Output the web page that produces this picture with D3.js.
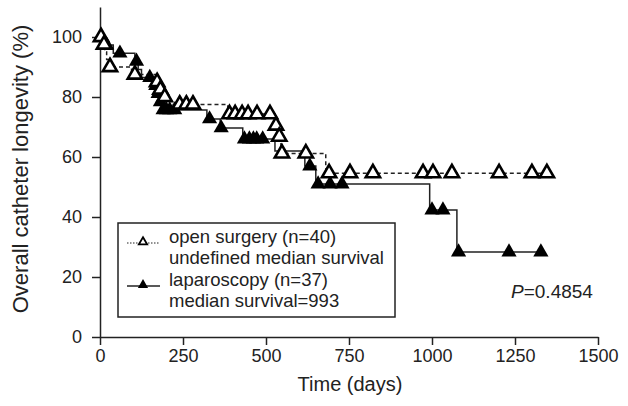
<!DOCTYPE html>
<html>
<head>
<meta charset="utf-8">
<script src="https://cdn.jsdelivr.net/npm/d3@7"></script>
<style>
  body { margin: 0; background: #fff; }
  svg { font-family: "Liberation Sans", Arial, sans-serif; }
</style>
</head>
<body>
<svg id="chart" width="628" height="406"></svg>
<script>
// step points [time, survival after drop]
const openSteps = [[0,100],[8,97.5],[14,95],[20,92.5],[26,90],[95,87.5],[168,85],[178,82.5],[188,80],[200,77.5],
  [385,74.3],[527,70.5],[535,66.8],[545,61.2],[680,54.6]];
const openCensored = [[3,100],[12,97.5],[30,90],[105,87.5],[172,85],[182,82.5],[195,80],[240,77.5],[260,77.5],[280,77.5],
  [390,74.3],[407,74.3],[428,74.3],[446,74.3],[473,74.3],[512,74.3],[530,70.5],[540,66.8],[548,61.2],[620,61.2],
  [690,54.6],[753,54.6],[822,54.6],[973,54.6],[1003,54.6],[1060,54.6],[1202,54.6],[1301,54.6],[1346,54.6]];

const lapSteps = [[0,100],[12,97.3],[40,94.6],[105,91.9],[115,89.2],[125,86.5],[165,83.8],[172,81.1],[178,78.4],[185,75.7],
  [322,72.7],[362,69.7],[430,66.0],[527,62.0],[617,57.0],[650,51.0],[993,42.3],[1075,28.3]];
const lapCensored = [[20,97.3],[60,94.6],[110,91.9],[150,86.5],[168,83.8],[175,81.1],[182,78.4],[190,75.7],[200,75.7],
  [210,75.7],[225,75.7],[330,72.7],[365,69.7],[435,66.0],[450,66.0],[462,66.0],[472,66.0],[490,66.0],[632,57.0],
  [657,51.0],[693,51.0],[729,51.0],[1000,42.3],[1033,42.3],[1080,28.3],[1232,28.3],[1328,28.3]];

const xTicks = [0, 250, 500, 750, 1000, 1250, 1500];
const yTicks = [0, 20, 40, 60, 80, 100];
const legendLines = [
  ['open surgery (n=40)', 'undefined median survival'],
  ['laparoscopy (n=37)', 'median survival=993']
];
const pLabel = '=0.4854';

const ink = '#222';
const svg = d3.select('#chart');

const x = d3.scaleLinear().domain([0, 1500]).range([100, 598]);
const y = d3.scaleLinear().domain([0, 110]).range([337, 7]);

// axes
const xAxis = svg.append('g')
  .attr('transform', `translate(0,${y(0)})`)
  .call(d3.axisBottom(x).tickValues(xTicks).tickFormat(d3.format('d'))
    .tickSize(8).tickSizeOuter(0).tickPadding(4));
const yAxis = svg.append('g')
  .attr('transform', `translate(${x(0)},0)`)
  .call(d3.axisLeft(y).tickValues(yTicks).tickSize(8).tickSizeOuter(0).tickPadding(10));

[xAxis, yAxis].forEach(a => {
  a.selectAll('path, line').attr('stroke', ink).attr('stroke-width', 1.5);
  a.selectAll('text').attr('fill', ink).style('font-size', '18px');
});

svg.append('text')
  .attr('x', 350).attr('y', 391)
  .attr('text-anchor', 'middle')
  .attr('fill', ink)
  .style('font-size', '20px')
  .text('Time (days)');

svg.append('text')
  .attr('transform', `translate(28,${y(50) - 18}) rotate(-90)`)
  .attr('text-anchor', 'middle')
  .attr('fill', ink)
  .style('font-size', '22px')
  .text('Overall catheter longevity (%)');

// curves
function stepPath(steps, censored) {
  const lastT = d3.max(censored, d => d[0]);
  const pts = steps.concat([[Math.max(lastT, steps[steps.length - 1][0]), steps[steps.length - 1][1]]]);
  return d3.line().x(d => x(d[0])).y(d => y(d[1])).curve(d3.curveStepAfter)(pts);
}

svg.append('path')
  .attr('d', stepPath(openSteps, openCensored))
  .attr('fill', 'none')
  .attr('stroke', ink)
  .attr('stroke-width', 1.5)
  .attr('stroke-dasharray', '4,3');

svg.append('path')
  .attr('d', stepPath(lapSteps, lapCensored))
  .attr('fill', 'none')
  .attr('stroke', ink)
  .attr('stroke-width', 1.5);

const tri = d3.symbol().type(d3.symbolTriangle);

svg.append('g').selectAll('path')
  .data(lapCensored)
  .join('path')
  .attr('transform', d => `translate(${x(d[0])},${y(d[1])})`)
  .attr('d', tri.size(100)())
  .attr('fill', '#000');

svg.append('g').selectAll('path')
  .data(openCensored)
  .join('path')
  .attr('transform', d => `translate(${x(d[0])},${y(d[1])})`)
  .attr('d', tri.size(88)())
  .attr('fill', '#fff')
  .attr('stroke', '#000')
  .attr('stroke-width', 2.6)
  .attr('stroke-linejoin', 'miter');

// legend
const legend = svg.append('g');
legend.append('rect')
  .attr('x', 118).attr('y', 223).attr('width', 277).attr('height', 94)
  .attr('fill', '#fff').attr('stroke', ink).attr('stroke-width', 1.5);

const rowY = [237, 280];
legendLines.forEach((lines, i) => {
  const ly = rowY[i] + 6;
  legend.append('line')
    .attr('x1', 127).attr('x2', 160).attr('y1', ly).attr('y2', ly)
    .attr('stroke', ink).attr('stroke-width', i === 0 ? 1 : 1.5)
    .attr('stroke-dasharray', i === 0 ? '1.5,1.5' : null);
  legend.append('path')
    .attr('transform', `translate(143,${ly - 1})`)
    .attr('d', tri.size(i === 0 ? 30 : 45)())
    .attr('fill', i === 0 ? '#fff' : '#000')
    .attr('stroke', '#000')
    .attr('stroke-width', i === 0 ? 1.8 : 0);
  lines.forEach((t, j) => {
    legend.append('text')
      .attr('x', 169).attr('y', rowY[i] + j * 21)
      .attr('dy', '0.35em')
      .attr('fill', ink)
      .style('font-size', '18.5px')
      .text(t);
  });
});

const pText = svg.append('text')
  .attr('x', 511).attr('y', 291)
  .attr('dy', '0.35em')
  .attr('fill', ink)
  .style('font-size', '19px');
pText.append('tspan').style('font-style', 'italic').text('P');
pText.append('tspan').text(pLabel);
</script>
</body>
</html>
